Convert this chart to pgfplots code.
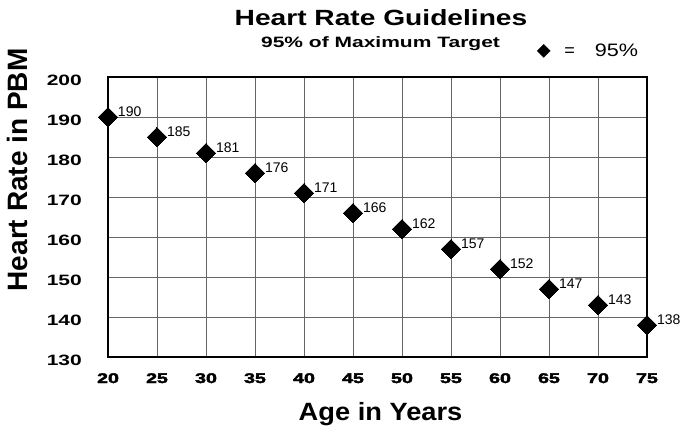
\documentclass[border=0pt]{standalone}
\usepackage{fontspec}
\setmainfont{Liberation Sans}
\newfontface\heavyfont{Liberation Sans Bold}[FakeBold=2.5]
\usepackage{graphicx}
\usepackage{pgfplots}
\usepackage{pgfplotstable}
\pgfplotsset{compat=1.18}

\pgfplotstableread{
age hr
20 190
25 185
30 181
35 176
40 171
45 166
50 162
55 157
60 152
65 147
70 143
75 138
}\hrdata

\begin{document}
\begin{tikzpicture}
\useasboundingbox (-108bp,-71bp) rectangle (589bp,357bp);
\begin{axis}[
  at={(0,0)}, anchor=south west,
  scale only axis, width=539bp, height=280bp,
  xmin=20, xmax=75, ymin=130, ymax=200,
  xtick={20,25,...,75}, ytick={130,140,...,200},
  major tick length=0pt,
  grid=major,
  major grid style={black!60, line width=0.8bp},
  axis line style={black, line width=1.3bp},
  clip=false,
  /pgf/number format/assume math mode=true,
  xticklabel={\scalebox{1.4}[1]{\pgfmathprintnumber{\tick}}},
  yticklabel={\scalebox{1.4}[1]{\pgfmathprintnumber{\tick}}},
  xticklabel style={font=\heavyfont\fontsize{14bp}{16bp}\selectfont, anchor=base, inner sep=0pt, yshift=-26bp},
  yticklabel style={font=\bfseries\fontsize{15bp}{17bp}\selectfont, anchor=east, inner sep=0pt, xshift=-26bp, yshift=-3bp},
  xlabel={\scalebox{1.09}[1]{Age in Years}},
  xlabel style={at={(axis description cs:0.5056,-0.225)}, anchor=base, inner sep=0pt, font=\bfseries\fontsize{25bp}{28bp}\selectfont},
  ylabel={Heart Rate in PBM},
  ylabel style={at={(axis description cs:-0.167,0.668)}, anchor=center, inner sep=0pt, font=\bfseries\fontsize{28bp}{30bp}\selectfont},
  legend style={at={(axis description cs:0.796,1.093)}, anchor=west, draw=none, fill=none, inner sep=0pt, outer sep=0pt,
    font=\fontsize{18bp}{20bp}\selectfont, nodes={inner sep=0pt}, column sep=0pt},
]
\addplot[only marks, mark=square*, mark size=6.8bp,
  mark options={rotate=45, fill=black, draw=black, line width=0pt},
  nodes near coords,
  every node near coord/.append style={anchor=west, inner sep=0pt, xshift=10bp, yshift=5bp,
     font=\fontsize{14bp}{16bp}\selectfont, text=black},
  legend image code/.code={\fill[black] (0bp,0bp) -- (6.5bp,6.5bp) -- (13bp,0bp) -- (6.5bp,-6.5bp) -- cycle;}
] table[x=age, y=hr] {\hrdata};
\addlegendentry{\hspace{14bp}=\hspace{20bp}\scalebox{1.2}[1]{95\%}}
\end{axis}
\node[anchor=base, inner sep=0pt, font=\bfseries\fontsize{22bp}{26bp}\selectfont] at (273bp,331bp) {\scalebox{1.28}[1]{Heart Rate Guidelines}};
\node[anchor=base, inner sep=0pt, font=\bfseries\fontsize{15bp}{17bp}\selectfont] at (272.5bp,309bp) {\scalebox{1.4}[1]{95\% of Maximum Target}};
\end{tikzpicture}
\end{document}
